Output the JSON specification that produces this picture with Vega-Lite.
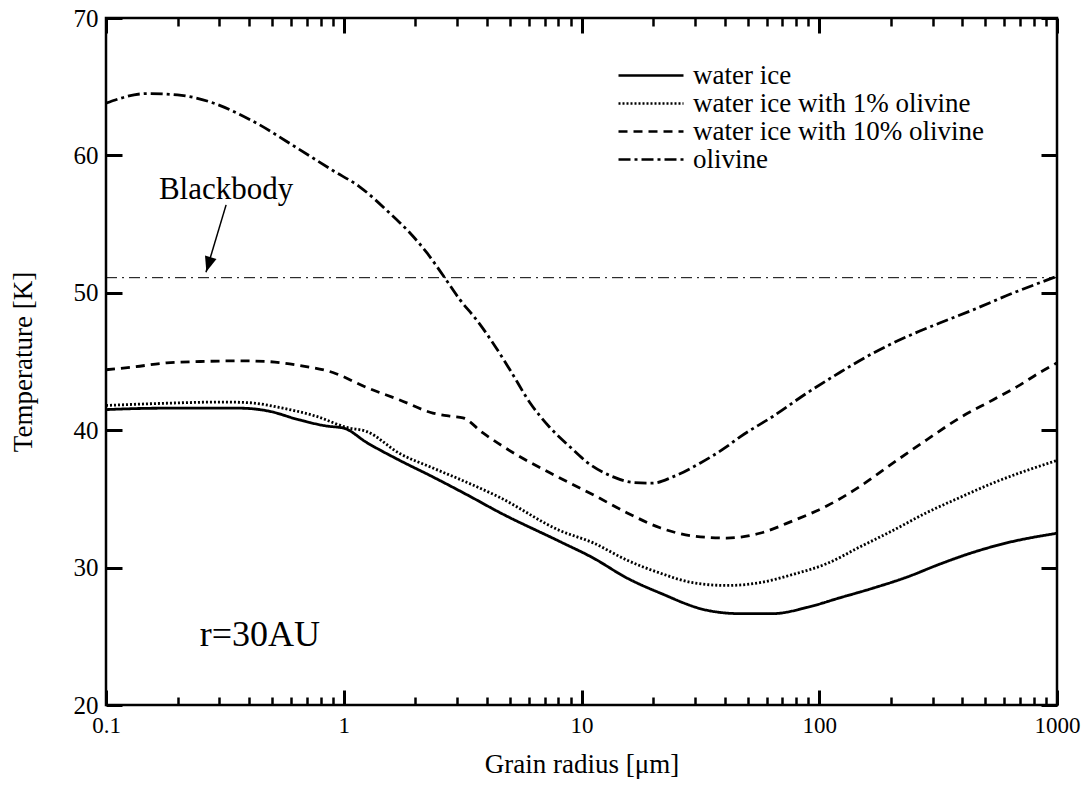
{
  "$schema": "https://vega.github.io/schema/vega-lite/v6.json",
  "width": 951,
  "height": 687,
  "autosize": "none",
  "padding": {"left": 106, "top": 18, "right": 29, "bottom": 82},
  "background": "white",
  "config": {
    "font": "Liberation Serif",
    "view": {"stroke": "black", "strokeWidth": 2.5},
    "axis": {
      "domain": false,
      "grid": false,
      "zindex": 1,
      "tickColor": "black",
      "tickWidth": 2.5,
      "labelColor": "black",
      "titleColor": "black",
      "labelFont": "Liberation Serif",
      "titleFont": "Liberation Serif",
      "titleFontWeight": "normal",
      "labelOverlap": false,
      "labelFlush": false
    },
    "legend": {
      "orient": "none",
      "legendX": 511,
      "legendY": 44,
      "title": null,
      "symbolType": "stroke",
      "symbolSize": 4225,
      "symbolStrokeWidth": 2.5,
      "symbolStrokeColor": "black",
      "clipHeight": 27,
      "rowPadding": 0,
      "labelFontSize": 27,
      "labelFont": "Liberation Serif",
      "labelColor": "black",
      "labelOffset": 8,
      "labelLimit": 0
    }
  },
  "datasets": {
    "curves": [
      {"series": "water ice", "r": 0.1, "T": 41.5},
      {"series": "water ice", "r": 0.17, "T": 41.6},
      {"series": "water ice", "r": 0.37, "T": 41.6},
      {"series": "water ice", "r": 0.48, "T": 41.4},
      {"series": "water ice", "r": 0.65, "T": 40.75},
      {"series": "water ice", "r": 0.85, "T": 40.3},
      {"series": "water ice", "r": 1.0, "T": 40.15},
      {"series": "water ice", "r": 1.25, "T": 39.1},
      {"series": "water ice", "r": 1.72, "T": 37.8},
      {"series": "water ice", "r": 2.37, "T": 36.6},
      {"series": "water ice", "r": 3.3, "T": 35.3},
      {"series": "water ice", "r": 4.54, "T": 34.0},
      {"series": "water ice", "r": 8.1, "T": 31.9},
      {"series": "water ice", "r": 11.2, "T": 30.7},
      {"series": "water ice", "r": 15.5, "T": 29.25},
      {"series": "water ice", "r": 21.4, "T": 28.15},
      {"series": "water ice", "r": 33.6, "T": 26.9},
      {"series": "water ice", "r": 46.3, "T": 26.65},
      {"series": "water ice", "r": 63.8, "T": 26.65},
      {"series": "water ice", "r": 88.7, "T": 27.1},
      {"series": "water ice", "r": 122, "T": 27.8},
      {"series": "water ice", "r": 168, "T": 28.5},
      {"series": "water ice", "r": 233, "T": 29.3},
      {"series": "water ice", "r": 321, "T": 30.25},
      {"series": "water ice", "r": 442, "T": 31.1},
      {"series": "water ice", "r": 615, "T": 31.8},
      {"series": "water ice", "r": 1000, "T": 32.5},

      {"series": "water ice with 1% olivine", "r": 0.1, "T": 41.8},
      {"series": "water ice with 1% olivine", "r": 0.17, "T": 41.95},
      {"series": "water ice with 1% olivine", "r": 0.31, "T": 42.05},
      {"series": "water ice with 1% olivine", "r": 0.4, "T": 42.0},
      {"series": "water ice with 1% olivine", "r": 0.555, "T": 41.6},
      {"series": "water ice with 1% olivine", "r": 0.77, "T": 41.0},
      {"series": "water ice with 1% olivine", "r": 1.03, "T": 40.2},
      {"series": "water ice with 1% olivine", "r": 1.25, "T": 39.9},
      {"series": "water ice with 1% olivine", "r": 1.72, "T": 38.3},
      {"series": "water ice with 1% olivine", "r": 2.37, "T": 37.25},
      {"series": "water ice with 1% olivine", "r": 3.3, "T": 36.2},
      {"series": "water ice with 1% olivine", "r": 4.54, "T": 35.1},
      {"series": "water ice with 1% olivine", "r": 8.1, "T": 32.7},
      {"series": "water ice with 1% olivine", "r": 11.2, "T": 31.8},
      {"series": "water ice with 1% olivine", "r": 15.5, "T": 30.55},
      {"series": "water ice with 1% olivine", "r": 21.4, "T": 29.6},
      {"series": "water ice with 1% olivine", "r": 29.4, "T": 28.9},
      {"series": "water ice with 1% olivine", "r": 40.8, "T": 28.7},
      {"series": "water ice with 1% olivine", "r": 56.2, "T": 28.9},
      {"series": "water ice with 1% olivine", "r": 77.4, "T": 29.5},
      {"series": "water ice with 1% olivine", "r": 108, "T": 30.3},
      {"series": "water ice with 1% olivine", "r": 148, "T": 31.5},
      {"series": "water ice with 1% olivine", "r": 204, "T": 32.7},
      {"series": "water ice with 1% olivine", "r": 283, "T": 34.0},
      {"series": "water ice with 1% olivine", "r": 390, "T": 35.1},
      {"series": "water ice with 1% olivine", "r": 537, "T": 36.15},
      {"series": "water ice with 1% olivine", "r": 1000, "T": 37.8},

      {"series": "water ice with 10% olivine", "r": 0.1, "T": 44.4},
      {"series": "water ice with 10% olivine", "r": 0.13, "T": 44.6},
      {"series": "water ice with 10% olivine", "r": 0.18, "T": 44.9},
      {"series": "water ice with 10% olivine", "r": 0.25, "T": 45.0},
      {"series": "water ice with 10% olivine", "r": 0.37, "T": 45.05},
      {"series": "water ice with 10% olivine", "r": 0.475, "T": 45.0},
      {"series": "water ice with 10% olivine", "r": 0.655, "T": 44.7},
      {"series": "water ice with 10% olivine", "r": 0.9, "T": 44.2},
      {"series": "water ice with 10% olivine", "r": 1.25, "T": 43.1},
      {"series": "water ice with 10% olivine", "r": 1.72, "T": 42.2},
      {"series": "water ice with 10% olivine", "r": 2.37, "T": 41.25},
      {"series": "water ice with 10% olivine", "r": 2.88, "T": 41.0},
      {"series": "water ice with 10% olivine", "r": 3.17, "T": 40.9},
      {"series": "water ice with 10% olivine", "r": 3.85, "T": 39.8},
      {"series": "water ice with 10% olivine", "r": 5.35, "T": 38.2},
      {"series": "water ice with 10% olivine", "r": 7.36, "T": 36.9},
      {"series": "water ice with 10% olivine", "r": 11.2, "T": 35.3},
      {"series": "water ice with 10% olivine", "r": 15.5, "T": 34.0},
      {"series": "water ice with 10% olivine", "r": 21.4, "T": 32.9},
      {"series": "water ice with 10% olivine", "r": 29.4, "T": 32.3},
      {"series": "water ice with 10% olivine", "r": 40.8, "T": 32.15},
      {"series": "water ice with 10% olivine", "r": 56.2, "T": 32.5},
      {"series": "water ice with 10% olivine", "r": 77.4, "T": 33.4},
      {"series": "water ice with 10% olivine", "r": 108, "T": 34.5},
      {"series": "water ice with 10% olivine", "r": 148, "T": 35.9},
      {"series": "water ice with 10% olivine", "r": 204, "T": 37.6},
      {"series": "water ice with 10% olivine", "r": 283, "T": 39.3},
      {"series": "water ice with 10% olivine", "r": 390, "T": 40.9},
      {"series": "water ice with 10% olivine", "r": 537, "T": 42.2},
      {"series": "water ice with 10% olivine", "r": 700, "T": 43.3},
      {"series": "water ice with 10% olivine", "r": 847, "T": 44.2},
      {"series": "water ice with 10% olivine", "r": 1000, "T": 44.9},

      {"series": "olivine", "r": 0.1, "T": 63.8},
      {"series": "olivine", "r": 0.149, "T": 64.5},
      {"series": "olivine", "r": 0.2, "T": 64.4},
      {"series": "olivine", "r": 0.273, "T": 63.9},
      {"series": "olivine", "r": 0.404, "T": 62.6},
      {"series": "olivine", "r": 0.655, "T": 60.4},
      {"series": "olivine", "r": 0.9, "T": 58.9},
      {"series": "olivine", "r": 1.17, "T": 57.7},
      {"series": "olivine", "r": 1.56, "T": 55.8},
      {"series": "olivine", "r": 1.9, "T": 54.35},
      {"series": "olivine", "r": 2.24, "T": 52.9},
      {"series": "olivine", "r": 2.61, "T": 51.3},
      {"series": "olivine", "r": 3.08, "T": 49.5},
      {"series": "olivine", "r": 3.63, "T": 48.0},
      {"series": "olivine", "r": 4.24, "T": 46.35},
      {"series": "olivine", "r": 5.0, "T": 44.4},
      {"series": "olivine", "r": 6.07, "T": 42.0},
      {"series": "olivine", "r": 7.36, "T": 40.2},
      {"series": "olivine", "r": 8.93, "T": 38.8},
      {"series": "olivine", "r": 10.5, "T": 37.7},
      {"series": "olivine", "r": 13.6, "T": 36.6},
      {"series": "olivine", "r": 16.4, "T": 36.2},
      {"series": "olivine", "r": 19.9, "T": 36.15},
      {"series": "olivine", "r": 24.2, "T": 36.6},
      {"series": "olivine", "r": 31.5, "T": 37.6},
      {"series": "olivine", "r": 40.8, "T": 38.8},
      {"series": "olivine", "r": 46.3, "T": 39.5},
      {"series": "olivine", "r": 63.8, "T": 41.0},
      {"series": "olivine", "r": 88.7, "T": 42.7},
      {"series": "olivine", "r": 122, "T": 44.2},
      {"series": "olivine", "r": 168, "T": 45.6},
      {"series": "olivine", "r": 233, "T": 46.8},
      {"series": "olivine", "r": 321, "T": 47.8},
      {"series": "olivine", "r": 442, "T": 48.75},
      {"series": "olivine", "r": 615, "T": 49.8},
      {"series": "olivine", "r": 1000, "T": 51.2}
    ],
    "bb": [{"label": "Blackbody", "r": 0.32, "T": 57.5}],
    "rlabel": [{"label": "r=30AU", "r": 0.248, "T": 25.1}],
    "blackbody": [{"r": 0.1, "r2": 1000, "T": 51.1}],
    "arrow": [
      {"r": 0.32, "T": 56.4, "r2": 0.2633, "T2": 51.5}
    ],
    "arrowhead": [
      {"r": 0.27, "T": 52.06}
    ]
  },
  "resolve": {
    "scale": {"x": "shared", "y": "shared"},
    "axis": {"x": "independent", "y": "independent"}
  },
  "layer": [
    {
      "data": {"name": "curves"},
      "mark": {"type": "line", "interpolate": "monotone", "strokeWidth": 2.8, "color": "black"},
      "encoding": {
        "x": {
          "field": "r", "type": "quantitative",
          "scale": {"type": "log", "domain": [0.1, 1000], "nice": false},
          "axis": {
            "orient": "bottom",
            "title": "Grain radius [μm]",
            "titleFontSize": 27,
            "titleColor": "black",
            "titlePadding": 14,
            "values": [0.1, 1, 10, 100, 1000],
            "format": "~g",
            "offset": -15,
            "tickSize": 15,
            "tickColor": "black",
            "tickWidth": 3,
            "labelPadding": 9,
            "labelFontSize": 23
          }
        },
        "y": {
          "field": "T", "type": "quantitative",
          "scale": {"domain": [20, 70], "nice": false, "zero": false},
          "axis": {
            "orient": "left",
            "title": "Temperature [K]",
            "titleFontSize": 27,
            "titleColor": "black",
            "titlePadding": 36,
            "values": [20, 30, 40, 50, 60, 70],
            "offset": -16,
            "tickSize": 16,
            "tickColor": "black",
            "tickWidth": 3,
            "labelPadding": 8,
            "labelFontSize": 25
          }
        },
        "strokeDash": {
          "field": "series", "type": "nominal",
          "scale": {
            "domain": ["water ice", "water ice with 1% olivine", "water ice with 10% olivine", "olivine"],
            "range": [[1, 0], [2, 2], [9, 6], [12, 4, 3, 4]]
          }
        },
        "detail": {"field": "series"}
      }
    },
    {
      "data": {"name": "blackbody"},
      "mark": {"type": "rule", "color": "black", "strokeWidth": 1, "strokeDash": [11, 5, 2, 5]},
      "encoding": {
        "x": {"field": "r", "type": "quantitative", "axis": null},
        "x2": {"field": "r2"},
        "y": {"field": "T", "type": "quantitative", "axis": null}
      }
    },
    {
      "data": {"name": "bb"},
      "mark": {"type": "text", "color": "black", "font": "Liberation Serif", "baseline": "middle", "align": "center", "fontSize": 31},
      "encoding": {
        "x": {
          "field": "r", "type": "quantitative",
          "axis": {
            "orient": "top",
            "title": null,
            "values": [0.1, 1, 10, 100, 1000],
            "labels": false,
            "offset": -15,
            "tickSize": 15,
            "tickColor": "black",
            "tickWidth": 3
          }
        },
        "y": {
          "field": "T", "type": "quantitative",
          "axis": {
            "orient": "right",
            "title": null,
            "values": [20, 30, 40, 50, 60, 70],
            "labels": false,
            "offset": -16,
            "tickSize": 16,
            "tickColor": "black",
            "tickWidth": 3
          }
        },
        "text": {"field": "label"}
      }
    },
    {
      "data": {"name": "rlabel"},
      "mark": {"type": "text", "color": "black", "font": "Liberation Serif", "baseline": "middle", "align": "left", "fontSize": 36},
      "encoding": {
        "x": {
          "field": "r", "type": "quantitative",
          "axis": {
            "orient": "bottom",
            "title": null,
            "values": [0.2,0.3,0.4,0.5,0.6,0.7,0.8,0.9,2,3,4,5,6,7,8,9,20,30,40,50,60,70,80,90,200,300,400,500,600,700,800,900],
            "labels": false,
            "offset": -8,
            "tickSize": 8,
            "tickColor": "black",
            "tickWidth": 2.5
          }
        },
        "y": {"field": "T", "type": "quantitative", "axis": null},
        "text": {"field": "label"}
      }
    },
    {
      "data": {"name": "arrow"},
      "mark": {"type": "rule", "color": "black", "strokeWidth": 1.5},
      "encoding": {
        "x": {
          "field": "r", "type": "quantitative",
          "axis": {
            "orient": "top",
            "title": null,
            "values": [0.2,0.3,0.4,0.5,0.6,0.7,0.8,0.9,2,3,4,5,6,7,8,9,20,30,40,50,60,70,80,90,200,300,400,500,600,700,800,900],
            "labels": false,
            "offset": -8,
            "tickSize": 8,
            "tickColor": "black",
            "tickWidth": 2.5
          }
        },
        "y": {"field": "T", "type": "quantitative", "axis": null},
        "x2": {"field": "r2"},
        "y2": {"field": "T2"}
      }
    },
    {
      "data": {"name": "arrowhead"},
      "mark": {"type": "point", "shape": "M0,1L-0.8,-1L0.8,-1Z", "filled": true, "color": "black", "opacity": 1, "size": 225, "angle": 17},
      "encoding": {
        "x": {"field": "r", "type": "quantitative", "axis": null},
        "y": {"field": "T", "type": "quantitative", "axis": null}
      }
    }
  ]
}
